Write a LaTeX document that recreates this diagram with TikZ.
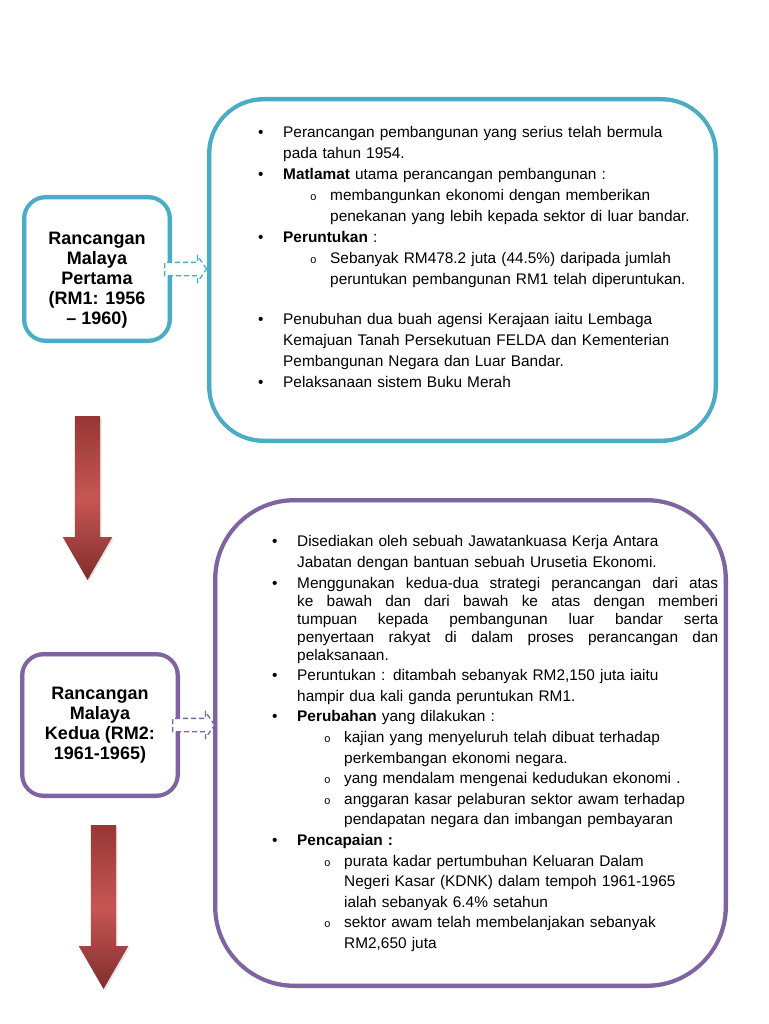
\documentclass[tikz,border=0pt]{standalone}
\usepackage{fontspec}
\setmainfont{Liberation Sans}
\newfontfamily\monofont{Liberation Mono}
\usepackage{enumitem}
\usetikzlibrary{shapes,positioning,shadows}

\definecolor{rmaqua}{RGB}{75,172,198}
\definecolor{rmviolet}{RGB}{128,100,162}
\definecolor{arrowdark}{RGB}{150,55,53}
\definecolor{arrowlight}{RGB}{198,86,83}

\setlist[itemize,1]{label=\textbullet,leftmargin=25pt,labelindent=0pt,labelwidth=25pt,labelsep=0pt,align=left,topsep=0pt,partopsep=0pt,itemsep=0pt,parsep=0pt}
\setlist[itemize,2]{label={\monofont\fontsize{11}{11}\selectfont o},leftmargin=47pt,labelindent=27pt,labelwidth=20pt,labelsep=0pt,align=left,topsep=0pt,partopsep=0pt,itemsep=0pt,parsep=0pt}

\begin{document}
\begin{tikzpicture}[x=1pt,y=-1pt,
		rmbox/.style={
			rectangle,draw=#1,line width=4pt,fill=white,rounded corners=22pt,
			align=center,font=\bfseries\fontsize{18}{20}\selectfont,
		},
		planbox/.style={
			rectangle,draw=#1,line width=4pt,fill=white,
		},
		innerline/.style={draw=#1,line width=1.2pt},
		items/.style={
			anchor=north west,inner sep=0pt,font=\fontsize{15.4}{21}\selectfont,
		},
		linkarrow/.style={
			single arrow,draw=#1,dash pattern=on 5pt off 3pt,line width=1.3pt,fill=white,
			inner xsep=0pt,inner ysep=6pt,minimum height=42pt,
			single arrow head extend=6.5pt,single arrow tip angle=110,
		},
		downarrow/.style={
			single arrow,shape border rotate=270,
			inner sep=12.5pt,minimum height=164pt,
			top color=arrowdark,bottom color=arrowdark!85!black,middle color=arrowlight,
			single arrow head extend=12pt,single arrow tip angle=60,
			drop shadow={opacity=0.2,shadow xshift=1.5pt,shadow yshift=-1.5pt},
		},
	]
	\useasboundingbox (0,0) rectangle (768,1024);
	\fill[white] (0,0) rectangle (768,1024);

	% the two plans on the left
	\node[rmbox=rmaqua,minimum width=146pt,minimum height=144pt] (rm1) at (97,269)
		{\rule{0pt}{35pt}Rancangan\\Malaya\\Pertama\\(RM1: 1956\\– 1960)};
	\node[rmbox=rmviolet,minimum width=156pt,minimum height=142pt] (rm2) at (100,725)
		{Rancangan\\Malaya\\Kedua (RM2:\\1961-1965)};

	% the boxes with the notes
	\node[planbox=rmaqua,rounded corners=55pt,minimum width=507pt,minimum height=342pt] (plan1) at (462.5,270) {};
	\node[planbox=rmviolet,rounded corners=80pt,minimum width=511pt,minimum height=486pt] (plan2) at (470.5,743) {};

	% thin inner line of every frame
	\foreach \nd/\col/\rad in {rm1/rmaqua/18.2,rm2/rmviolet/18.2,plan1/rmaqua/51.2,plan2/rmviolet/76.2}
	\draw[innerline=\col,rounded corners=\rad pt] ([shift={(3.8,3.8)}]\nd.north west) rectangle ([shift={(-3.8,-3.8)}]\nd.south east);

	\node[items,text width=440pt] (notes1) at (258,116) {%
		\begin{itemize}
			\item Perancangan pembangunan yang serius telah bermula\\pada tahun 1954.
			\item \textbf{Matlamat} utama perancangan pembangunan :
			\begin{itemize}
				\item membangunkan ekonomi dengan memberikan\\penekanan yang lebih kepada sektor di luar bandar.
			\end{itemize}
			\item \textbf{Peruntukan} :
			\begin{itemize}
				\item Sebanyak RM478.2 juta (44.5\%) daripada jumlah\\peruntukan pembangunan RM1 telah diperuntukan.
			\end{itemize}
			\vspace{19pt}
			\item Penubuhan dua buah agensi Kerajaan iaitu Lembaga\\Kemajuan Tanah Persekutuan FELDA dan Kementerian\\Pembangunan Negara dan Luar Bandar.
			\item Pelaksanaan sistem Buku Merah
		\end{itemize}};

	\node[items,text width=446pt,font=\fontsize{15.4}{20.6}\selectfont] (notes2) at (272,526) {%
		\begin{itemize}
			\item Disediakan oleh sebuah Jawatankuasa Kerja Antara\\Jabatan dengan bantuan sebuah Urusetia Ekonomi.
			\vspace{2.6pt}
			\item {\rightskip=0pt\relax\spaceskip=0pt\relax\xspaceskip=0pt\relax\parfillskip=0pt plus 1fil\relax\baselineskip=18pt Menggunakan kedua-dua strategi perancangan dari atas\linebreak ke bawah dan dari bawah ke atas dengan memberi\linebreak tumpuan kepada pembangunan luar bandar serta\linebreak penyertaan rakyat di dalam proses perancangan dan\linebreak pelaksanaan.\par}
			\item Peruntukan : ditambah sebanyak RM2,150 juta iaitu\\hampir dua kali ganda peruntukan RM1.
			\item \textbf{Perubahan} yang dilakukan :
			\begin{itemize}
				\item kajian yang menyeluruh telah dibuat terhadap\\perkembangan ekonomi negara.
				\item yang mendalam mengenai kedudukan ekonomi .
				\item anggaran kasar pelaburan sektor awam terhadap\\pendapatan negara dan imbangan pembayaran
			\end{itemize}
			\item \textbf{Pencapaian :}
			\begin{itemize}
				\item purata kadar pertumbuhan Keluaran Dalam\\Negeri Kasar (KDNK) dalam tempoh 1961-1965\\ialah sebanyak 6.4\% setahun
				\item sektor awam telah membelanjakan sebanyak\\RM2,650 juta
			\end{itemize}
		\end{itemize}};

	% dashed links from plan to notes
	\node[linkarrow=rmaqua,right=-8pt of rm1.east] (link1) {};
	\node[linkarrow=rmviolet,right=-8pt of rm2.east] (link2) {};

	% big arrows down the left side
	\node[downarrow] (down1) at (87.5,487) {};
	\node[downarrow] (down2) at (103.5,896) {};

\end{tikzpicture}
\end{document}
